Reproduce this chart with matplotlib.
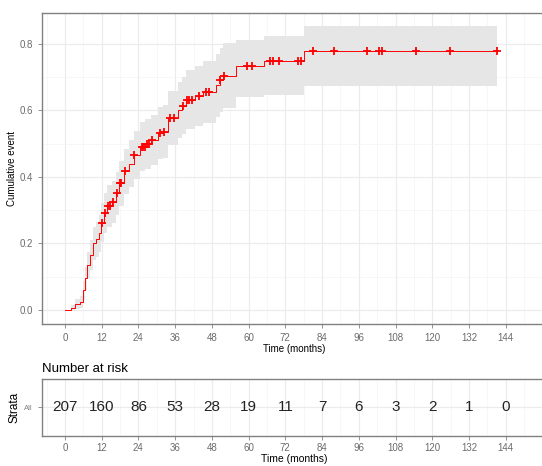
import numpy as np
import matplotlib
matplotlib.use("Agg")
import matplotlib.pyplot as plt
from matplotlib.ticker import MultipleLocator

plt.rcParams['font.family'] = ['Liberation Sans', 'DejaVu Sans']

# step knots of the cumulative event curve (months, cumulative incidence, 95% CI)
event_times = [0, 2.0, 3.3, 4.9, 5.8, 6.6, 7.3, 8.2, 9.1, 10.1, 11.0, 11.8, 12.7, 13.8,
               15.5, 16.6, 17.8, 19.4, 21.0, 22.4, 24.5, 26.3, 28.0, 30.5, 32.0, 33.8,
               37.0, 38.3, 39.6, 42.5, 45.0, 49.5, 50.5, 51.5, 56.0, 65.0, 78.1]
cum_event = [0, 0.005, 0.017, 0.024, 0.059, 0.095, 0.135, 0.165, 0.20, 0.212, 0.23, 0.262,
             0.292, 0.313, 0.325, 0.35, 0.38, 0.416, 0.44, 0.465, 0.49, 0.499, 0.511, 0.531,
             0.536, 0.577, 0.60, 0.614, 0.632, 0.642, 0.655, 0.675, 0.691, 0.704, 0.734,
             0.749, 0.777]
ci_lower = [0, 0, 0.002, 0.005, 0.03, 0.06, 0.095, 0.12, 0.15, 0.16, 0.175, 0.205, 0.232,
            0.25, 0.262, 0.285, 0.313, 0.347, 0.37, 0.393, 0.416, 0.424, 0.435, 0.453, 0.457,
            0.495, 0.516, 0.528, 0.544, 0.552, 0.563, 0.58, 0.594, 0.606, 0.64, 0.647, 0.672]
ci_upper = [0, 0.015, 0.032, 0.043, 0.088, 0.13, 0.175, 0.21, 0.25, 0.264, 0.285, 0.32,
            0.352, 0.375, 0.388, 0.415, 0.447, 0.485, 0.51, 0.537, 0.564, 0.574, 0.587, 0.609,
            0.615, 0.659, 0.684, 0.70, 0.72, 0.732, 0.747, 0.77, 0.788, 0.802, 0.81, 0.822,
            0.852]
last_time = 141.0

censor_times = [12.0, 13.0, 14.0, 14.6, 15.8, 16.9, 18.0, 18.3, 19.7, 22.6, 25.1, 25.6,
                26.2, 26.8, 27.5, 28.4, 31.1, 32.2, 34.4, 35.7, 38.6, 39.9, 40.5, 41.5,
                43.7, 46.0, 47.0, 50.8, 51.9, 59.5, 61.0, 67.0, 68.0, 70.0, 76.0, 77.0,
                80.9, 88.0, 98.7, 102.7, 103.6, 114.8, 125.9, 141.0]

risk_times = [0, 12, 24, 36, 48, 60, 72, 84, 96, 108, 120, 132, 144]
n_at_risk = [207, 160, 86, 53, 28, 19, 11, 7, 6, 3, 2, 1, 0]

red = "#ff0000"
grey_txt = "#6b6b6b"
border = "#808080"

t = np.array(event_times + [last_time])
y = np.array(cum_event + [cum_event[-1]])
lo = np.array(ci_lower + [ci_lower[-1]])
hi = np.array(ci_upper + [ci_upper[-1]])

fig = plt.figure(figsize=(5.42, 4.66), dpi=100)
ax = fig.add_axes([42 / 542, 1 - 324 / 466, 505 / 542, 311 / 466])

ax.fill_between(t, lo, hi, step="post", color="#e6e6e6", lw=0)
ax.step(t, y, where="post", color=red, lw=0.7)
idx = np.searchsorted(np.array(event_times), censor_times, side="right") - 1
ax.plot(censor_times, np.array(cum_event)[idx], "+", color=red, ms=6, mew=1.3)

ax.set_xlim(-7.5, 157.5)
ax.set_ylim(-0.0425, 0.8925)
ax.xaxis.set_minor_locator(MultipleLocator(6))
ax.yaxis.set_minor_locator(MultipleLocator(0.1))
ax.set_xticks(risk_times)
ax.set_yticks([0, 0.2, 0.4, 0.6, 0.8])
ax.set_yticklabels(["0.0", "0.2", "0.4", "0.6", "0.8"])
ax.grid(which="major", color="#ebebeb", lw=0.8)
ax.grid(which="minor", color="#f4f4f4", lw=0.5)
ax.set_axisbelow(True)
ax.tick_params(which="major", labelsize=7, colors=border, labelcolor=grey_txt, length=3, width=0.6)
ax.tick_params(which="minor", length=0)
for s in ax.spines.values():
    s.set_color(border)
    s.set_linewidth(1.0)
ax.set_xlabel("Time (months)", fontsize=7, labelpad=1)
ax.set_ylabel("Cumulative event", fontsize=7, labelpad=1.5)

# number at risk table
rt = fig.add_axes([42 / 542, 1 - 436 / 466, 505 / 542, 57.3 / 466])
for xt, n in zip(risk_times, n_at_risk):
    rt.text(xt, 0, str(n), ha="center", va="center", fontsize=11, color="#222222")
rt.set_xlim(-7.5, 157.5)
rt.set_ylim(-1, 1)
rt.set_xticks(risk_times)
rt.xaxis.set_minor_locator(MultipleLocator(6))
rt.set_yticks([0])
rt.set_yticklabels(["All"])
for lab in rt.get_yticklabels():
    lab.set_color(red)
    lab.set_fontsize(5.5)
rt.grid(which="major", axis="x", color="#ebebeb", lw=0.8)
rt.grid(which="minor", axis="x", color="#f4f4f4", lw=0.5)
rt.grid(which="major", axis="y", color="#ebebeb", lw=0.8)
rt.set_axisbelow(True)
rt.tick_params(axis="x", which="major", labelsize=7, colors=border, labelcolor=grey_txt,
               length=3, width=0.6, pad=2)
rt.tick_params(axis="y", length=3, width=0.6, colors=border)
rt.tick_params(which="minor", length=0)
for s in rt.spines.values():
    s.set_color(border)
    s.set_linewidth(1.0)
rt.set_xlabel("Time (months)", fontsize=7.5, labelpad=0.5)
rt.set_ylabel("Strata", fontsize=8.5, labelpad=3)
rt.set_title("Number at risk", fontsize=9.5, loc="left", pad=5)

fig.savefig("out.png", dpi=100)
